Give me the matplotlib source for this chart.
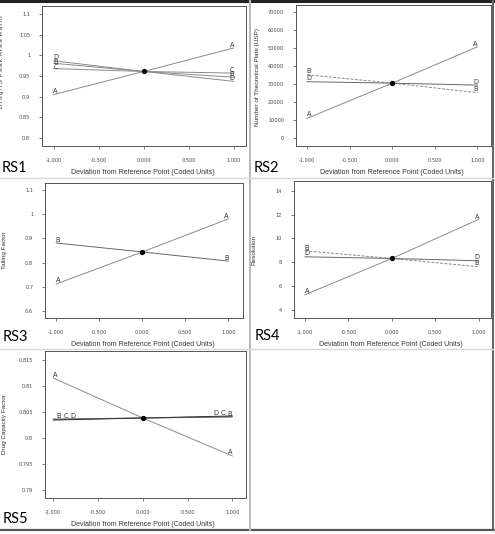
import numpy as np
import matplotlib
matplotlib.use('Agg')
import matplotlib.pyplot as plt
from matplotlib.lines import Line2D
from matplotlib.ticker import FuncFormatter

W, H = 495, 534

# coded factor levels
levels = [-1.0, 0.0, 1.0]

# RS1 - Drug/IS peak area ratio
rs1_center = 0.961
rs1_A = [0.905, rs1_center, 1.018]
rs1_B = [0.981, rs1_center, 0.947]
rs1_C = [0.968, rs1_center, 0.957]
rs1_D = [0.987, rs1_center, 0.937]
rs1_yticks = [0.8, 0.85, 0.9, 0.95, 1, 1.05, 1.1]

# RS2 - number of theoretical plates
rs2_center = 30400
rs2_A = [10800, rs2_center, 50600]
rs2_B = [35100, rs2_center, 25100]
rs2_D = [31200, rs2_center, 29300]
rs2_yticks = [0, 10000, 20000, 30000, 40000, 50000, 60000, 70000]

# RS3 - tailing factor
rs3_center = 0.844
rs3_A = [0.711, rs3_center, 0.981]
rs3_B = [0.881, rs3_center, 0.806]
rs3_yticks = [0.6, 0.7, 0.8, 0.9, 1, 1.1]

# RS4 - resolution
rs4_center = 8.33
rs4_A = [5.3, rs4_center, 11.6]
rs4_B = [8.97, rs4_center, 7.64]
rs4_D = [8.47, rs4_center, 8.14]
rs4_yticks = [4, 6, 8, 10, 12, 14]

# RS5 - drug capacity factor
rs5_center = 0.8038
rs5_A = [0.8115, rs5_center, 0.7965]
rs5_B = [0.8036, rs5_center, 0.8040]
rs5_C = [0.8035, rs5_center, 0.8041]
rs5_D = [0.8034, rs5_center, 0.8042]
rs5_yticks = [0.79, 0.795, 0.8, 0.805, 0.81, 0.815]

xticks = [-1.0, -0.5, 0.0, 0.5, 1.0]
xlab = 'Deviation from Reference Point (Coded Units)'

fig = plt.figure(figsize=(W / 100, H / 100), dpi=100)


def px_axes(l, t, r, b):
    return fig.add_axes([l / W, 1 - b / H, (r - l) / W, (b - t) / H])


def spaced(s):
    return '\u2009'.join(s)


def style(ax, xlim, ylim, yticks, ylabel, lx, ly):
    ax.set_xlim(*xlim)
    ax.set_ylim(*ylim)
    ax.set_xticks(xticks)
    ax.set_yticks(yticks)
    ax.xaxis.set_major_formatter(FuncFormatter(lambda v, p: '%.3f' % v))
    ax.yaxis.set_major_formatter(FuncFormatter(lambda v, p: '%g' % v))
    ax.tick_params(labelsize=3.6, length=2.5, width=0.5, colors='#444444', pad=6)
    for s in ax.spines.values():
        s.set_color('#555555')
        s.set_linewidth(0.7)
    ax.set_ylabel(ylabel, fontsize=4.6, color='#333333',
                  family=['Liberation Sans', 'DejaVu Sans'])
    ax.yaxis.set_label_coords(lx, ly)


def trace(ax, vals, letter, color='#8a8a8a', ls='-', lx=(-0.98, 0.98), dy=(0, 0)):
    ax.plot(levels, vals, color=color, lw=0.7, ls=ls, zorder=2)
    # labels near each end of the line
    for x, dd in zip(lx, dy):
        yv = np.interp(x, levels, vals)
        ax.annotate(letter, (x, yv), xytext=(0, 0.3 + dd), textcoords='offset points',
                    ha='center', va='bottom', fontsize=4.8, color='#333333')


def center(ax, v):
    ax.plot([0], [v], 'o', color='black', ms=2.8, zorder=3)


# RS1
ax1 = px_axes(42, 6, 246, 146)
style(ax1, (-1.13, 1.137), (0.78, 1.12), rs1_yticks,
      spaced('Drug/IS') + '\u2009 ' + spaced('Peak') + '\u2009 ' + spaced('Area')
      + '\u2009 ' + spaced('Ratio'), -0.185, 0.60)
trace(ax1, rs1_A, 'A')
trace(ax1, rs1_D, 'D', dy=(0.5, -0.5))
trace(ax1, rs1_B, 'B', dy=(-1.5, -0.5))
trace(ax1, rs1_C, 'C', dy=(-1.5, 0))
center(ax1, rs1_center)

# RS2
ax2 = px_axes(296, 5, 491, 146)
style(ax2, (-1.13, 1.16), (-4600, 73900), rs2_yticks,
      'Number of Theoretical Plate (USP)', -0.185, 0.49)
trace(ax2, rs2_A, 'A')
trace(ax2, rs2_B, 'B', ls=(0, (3, 1.5)))
trace(ax2, rs2_D, 'D', color='#666666')
center(ax2, rs2_center)

# RS3
ax3 = px_axes(45, 183, 243, 318)
style(ax3, (-1.13, 1.17), (0.57, 1.13), rs3_yticks, 'Tailing Factor', -0.19, 0.50)
trace(ax3, rs3_A, 'A')
trace(ax3, rs3_B, 'B', color='#666666')
center(ax3, rs3_center)

# RS4
ax4 = px_axes(294, 181, 491, 318)
style(ax4, (-1.127, 1.142), (3.36, 14.8), rs4_yticks, 'Resolution', -0.19, 0.50)
trace(ax4, rs4_A, 'A')
trace(ax4, rs4_B, 'B', ls=(0, (3, 1.5)))
trace(ax4, rs4_D, 'D', color='#666666')
center(ax4, rs4_center)

# RS5
ax5 = px_axes(45, 351, 246, 498)
style(ax5, (-1.093, 1.153), (0.7884, 0.8167), rs5_yticks,
      'Drug Capacity Factor', -0.19, 0.50)
trace(ax5, rs5_A, 'A')
trace(ax5, rs5_B, 'B', color='#555555', lx=(-0.944, 0.975))
trace(ax5, rs5_C, 'C', color='#777777', ls=(0, (4, 1)), lx=(-0.862, 0.90))
trace(ax5, rs5_D, 'D', color='#333333', lx=(-0.777, 0.818))
center(ax5, rs5_center)

# x labels and panel names
for cx, cy in [(143, 173), (392, 173), (143, 344), (391, 344), (143, 525)]:
    fig.text(cx / W, 1 - cy / H, xlab, ha='center', va='center', fontsize=5,
             color='#333333', family='Liberation Sans')

for name, x, y in [('RS1', 2, 168), ('RS2', 254, 168), ('RS3', 3, 337),
                   ('RS4', 255, 336), ('RS5', 3, 519)]:
    fig.text(x / W, 1 - y / H, name, ha='left', va='center', fontsize=10.5,
             family='Lato', color='black')


# page frame and dividers
def fline(x0, y0, x1, y1, c, lw):
    fig.add_artist(Line2D([x0 / W, x1 / W], [1 - y0 / H, 1 - y1 / H],
                          color=c, lw=lw, transform=fig.transFigure))


fline(0, 1, W, 1, '#222222', 2.2)
fline(0, 530, W, 530, '#555555', 1.6)
fline(493, 0, 493, 530, '#666666', 1.5)
fline(250, 0, 250, 530, '#bbbbbb', 1.5)
fline(0, 178, 493, 178, '#d8d8d8', 1.0)
fline(0, 349, 493, 349, '#d8d8d8', 1.0)

fig.savefig('out.png', dpi=100)
